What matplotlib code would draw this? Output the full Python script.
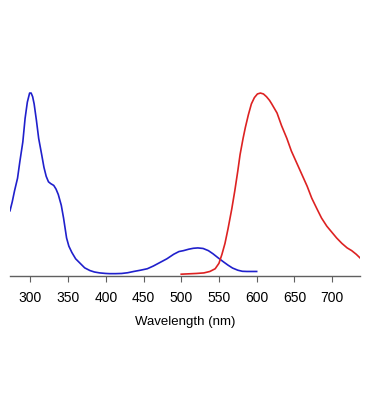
import matplotlib
matplotlib.use("Agg")
import matplotlib.pyplot as plt

plt.rcParams['font.family'] = ['Liberation Sans', 'DejaVu Sans']

# Blue spectrum (excitation)
blue_wl = [273, 276, 279, 283, 286, 290, 293, 296, 299, 301, 303, 305, 308, 311, 315, 318, 321, 324, 327,
           331, 334, 337, 341, 344, 348, 351, 355, 360, 366, 372, 379, 385, 392, 400, 405, 413, 421, 429,
           437, 446, 455, 463, 472, 481, 490, 497, 503, 510, 516, 522, 529, 536, 542, 549, 556, 562, 568,
           575, 581, 587, 594, 600]
blue_val = [0.35, 0.40, 0.46, 0.53, 0.62, 0.73, 0.86, 0.95, 1.00, 1.00, 0.98, 0.94, 0.85, 0.75, 0.66, 0.59,
            0.54, 0.51, 0.50, 0.49, 0.47, 0.44, 0.38, 0.31, 0.20, 0.155, 0.12, 0.085, 0.06, 0.035, 0.02,
            0.012, 0.007, 0.004, 0.003, 0.003, 0.004, 0.008, 0.015, 0.022, 0.03, 0.045, 0.065, 0.085,
            0.11, 0.125, 0.13, 0.138, 0.143, 0.145, 0.142, 0.13, 0.113, 0.09, 0.068, 0.05, 0.034, 0.022,
            0.016, 0.015, 0.015, 0.015]

# Red spectrum (emission)
red_wl = [500, 510, 520, 530, 538, 545, 550, 554, 558, 562, 567, 571, 575, 578, 582, 585, 589, 593, 597,
          601, 605, 609, 613, 617, 620, 627, 633, 640, 646, 653, 660, 667, 673, 680, 686, 693, 700, 706,
          713, 720, 726, 732, 737]
red_val = [0.0, 0.002, 0.004, 0.007, 0.015, 0.03, 0.06, 0.11, 0.17, 0.25, 0.36, 0.46, 0.57, 0.66, 0.75,
           0.81, 0.88, 0.94, 0.975, 0.995, 1.0, 0.995, 0.98, 0.96, 0.94, 0.89, 0.82, 0.75, 0.68, 0.615,
           0.55, 0.485, 0.42, 0.36, 0.31, 0.265, 0.23, 0.20, 0.17, 0.145, 0.13, 0.11, 0.09]

xticks = [300, 350, 400, 450, 500, 550, 600, 650, 700]

fig = plt.figure(figsize=(3.7, 4.19), dpi=100)
ax = fig.add_axes([10/370, 143/419, 350/370, 192/419])
ax.plot(blue_wl, blue_val, color='#2020cc', lw=1.2)
ax.plot(red_wl, red_val, color='#dd2222', lw=1.2)
ax.set_xlim(273, 737)
ax.set_ylim(-0.01, 1.05)
ax.set_xticks(xticks)
ax.set_xticklabels([str(t) for t in xticks], fontsize=10)
ax.set_yticks([])
for s in ['top', 'right', 'left']:
    ax.spines[s].set_visible(False)
ax.spines['bottom'].set_color('#606060')
ax.spines['bottom'].set_linewidth(1.0)
ax.tick_params(axis='x', direction='out', length=4, color='#606060', pad=7)
ax.set_xlabel('Wavelength (nm)', fontsize=9.5, labelpad=8)
fig.savefig('out.png', dpi=100)
